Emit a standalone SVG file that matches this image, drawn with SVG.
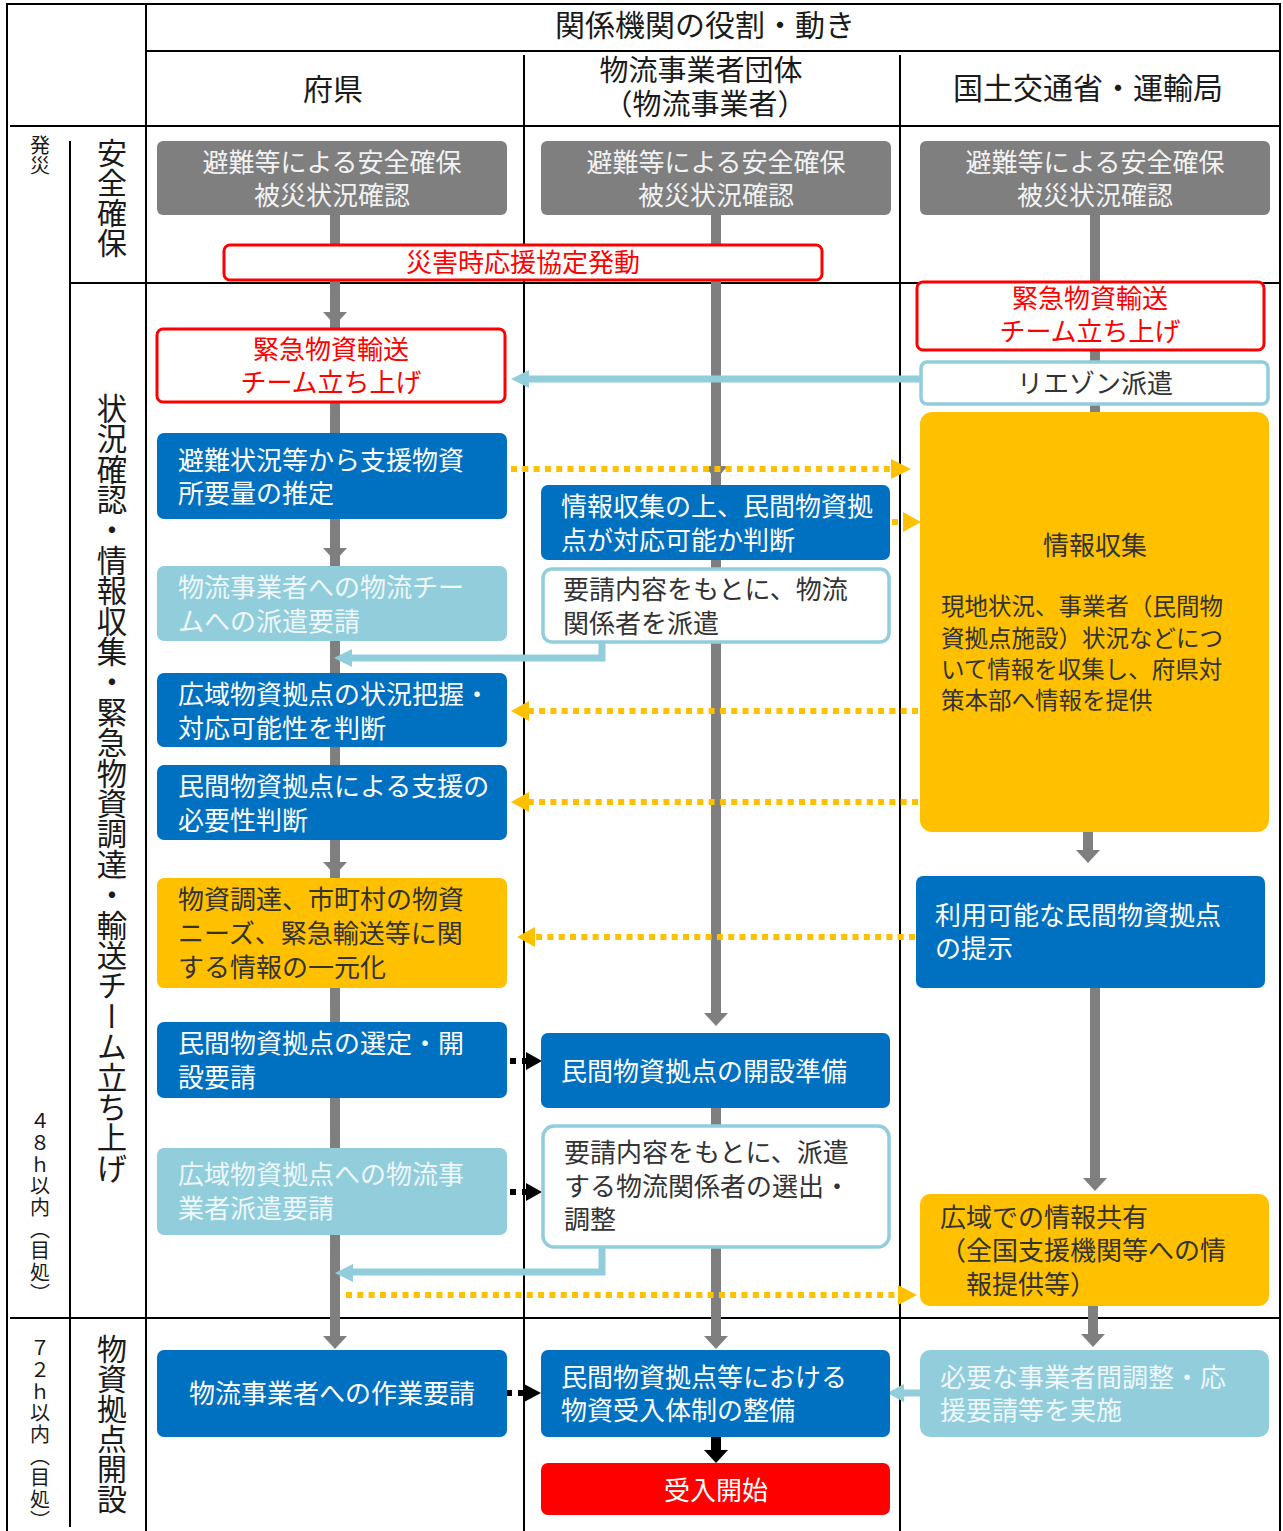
<svg xmlns="http://www.w3.org/2000/svg" width="1283" height="1531" viewBox="0 0 1283 1531">
<style>
text{font-family:'Noto Sans CJK JP','Noto Sans CJK SC',sans-serif;dominant-baseline:central}
.h{font-size:29px;fill:#1a1a1a;text-anchor:middle}
.v{writing-mode:vertical-rl;fill:#1a1a1a}
.vb{font-size:30.4px}
.vs{font-size:20px;letter-spacing:1.6px}
.t{font-size:26px}
.ts{font-size:23.5px}
.c{text-anchor:middle}
.w{fill:#ffffff}
.g{fill:#f2f2f2}
.lw{fill:#eef7fa}
.d{fill:#333333}
.r{fill:#ff0000}
.bgray{fill:#7f7f7f}
.bblue{fill:#0070c0}
.blight{fill:#92cddc}
.borange{fill:#ffc000}
.bred{fill:#ff0000}
.ored{fill:#ffffff;stroke:#ff0000;stroke-width:3}
.olb{fill:#ffffff;stroke:#92cddc;stroke-width:3.5}
.grid line{stroke:#000;stroke-width:2}
.gl{stroke:#7f7f7f;stroke-width:10;fill:none}
.ga{fill:#7f7f7f}
.lb{stroke:#92cddc;stroke-width:7;fill:none}
.lba{fill:#92cddc}
.od{stroke:#ffc000;stroke-width:6;stroke-dasharray:6 5.3;fill:none}
.oa{fill:#ffc000}
.bd{stroke:#000;stroke-width:6;stroke-dasharray:6 6;fill:none}
.ba{fill:#000}
</style>

<g id="grid" class="grid">
<line x1="7" y1="3" x2="7" y2="1531"/>
<line x1="6" y1="4" x2="1281" y2="4"/>
<line x1="146" y1="3" x2="146" y2="1531"/>
<line x1="146" y1="51" x2="1281" y2="51"/>
<line x1="524" y1="55" x2="524" y2="1531"/>
<line x1="900" y1="55" x2="900" y2="1531"/>
<line x1="1280" y1="4" x2="1280" y2="1531"/>
<line x1="10" y1="126" x2="1280" y2="126"/>
<line x1="70" y1="141" x2="70" y2="1527"/>
<line x1="70" y1="283" x2="1280" y2="283"/>
<line x1="10" y1="1318" x2="1280" y2="1318"/>
</g>

<g id="headers">
<text class="h" x="705" y="23" style="font-size:30px">関係機関の役割・動き</text>
<text class="h" x="333" y="87" style="font-size:30px">府県</text>
<text class="h" x="701" y="68">物流事業者団体</text>
<text class="h" x="705" y="102">（物流事業者）</text>
<text class="h" x="1088" y="86" style="font-size:30px">国土交通省・運輸局</text>
</g>

<g id="phases">
<text class="v vs" x="40" y="135" style="letter-spacing:0">発災</text>
<text class="v vb" x="112" y="138" style="font-size:30px">安全確保</text>
<text class="v vb" x="112" y="393">状況確認・情報収集・緊急物資調達・輸送チーム立ち上げ</text>
<text class="v vs" x="40" y="1111">４８ｈ以内（目処）</text>
<text class="v vs" x="40" y="1338">７２ｈ以内（目処）</text>
<text class="v vb" x="112" y="1334" style="font-size:30px">物資拠点開設</text>
</g>

<g id="connectors">
<line class="gl" x1="335" y1="215" x2="335" y2="1338"/>
<polygon class="ga" points="323,312 347,312 335,325"/>
<polygon class="ga" points="323,548 347,548 335,561"/>
<polygon class="ga" points="323,862 347,862 335,875"/>
<polygon class="ga" points="323,1336 347,1336 335,1349"/>
<line class="gl" x1="716" y1="215" x2="716" y2="1015"/>
<polygon class="ga" points="704,466 728,466 716,479"/>
<polygon class="ga" points="704,1013 728,1013 716,1026"/>
<line class="gl" x1="716" y1="1108" x2="716" y2="1338"/>
<polygon class="ga" points="704,1336 728,1336 716,1349"/>
<line class="gl" x1="1095" y1="215" x2="1095" y2="412"/>
<line class="gl" x1="1088" y1="832" x2="1088" y2="852"/>
<polygon class="ga" points="1076,850 1100,850 1088,863"/>
<line class="gl" x1="1095" y1="988" x2="1095" y2="1180"/>
<polygon class="ga" points="1083,1178 1107,1178 1095,1191"/>
<line class="gl" x1="1093" y1="1306" x2="1093" y2="1336"/>
<polygon class="ga" points="1081,1334 1105,1334 1093,1347"/>
<line x1="716" y1="1437" x2="716" y2="1451" stroke="#000" stroke-width="10"/>
<polygon class="ba" points="704,1450 728,1450 716,1463"/>
<line class="lb" x1="921" y1="379" x2="526" y2="379"/>
<polygon class="lba" points="511,379 529,370 529,388"/>
<polyline class="lb" points="602,642 602,658 350,658"/>
<polygon class="lba" points="334,658 352,649 352,667"/>
<polyline class="lb" points="602,1247 602,1272 352,1272"/>
<polygon class="lba" points="335,1273 353,1264 353,1282"/>
<line class="lb" x1="920" y1="1393" x2="902" y2="1393"/>
<polygon class="lba" points="887,1393 904,1384 904,1402"/>
<line class="od" x1="511" y1="469" x2="891" y2="469"/>
<polygon class="oa" points="891,459 891,479 911,469"/>
<line class="od" x1="892" y1="522" x2="904" y2="522"/>
<polygon class="oa" points="903,512 903,532 921,522"/>
<line class="od" x1="918" y1="711" x2="529" y2="711"/>
<polygon class="oa" points="529,701 529,721 511,711"/>
<line class="od" x1="918" y1="802" x2="529" y2="802"/>
<polygon class="oa" points="529,792 529,812 511,802"/>
<line class="od" x1="915" y1="937" x2="535" y2="937"/>
<polygon class="oa" points="535,927 535,947 517,937"/>
<line class="od" x1="346" y1="1295" x2="898" y2="1295"/>
<polygon class="oa" points="898,1285 898,1305 917,1295"/>
<line class="bd" x1="510" y1="1061" x2="527" y2="1061"/>
<polygon class="ba" points="526,1052 526,1070 542,1061"/>
<line class="bd" x1="510" y1="1192" x2="527" y2="1192"/>
<polygon class="ba" points="526,1183 526,1201 542,1192"/>
<line class="bd" x1="506" y1="1393" x2="525" y2="1393"/>
<polygon class="ba" points="524,1384 524,1402 541,1393"/>
</g>

<g id="n-gray1"><rect class="bgray" x="157" y="141" width="350" height="74" rx="6"/><text class="t g c" x="332" y="160">避難等による安全確保</text><text class="t g c" x="332" y="193">被災状況確認</text></g>
<g id="n-gray2"><rect class="bgray" x="541" y="141" width="350" height="74" rx="6"/><text class="t g c" x="716" y="160">避難等による安全確保</text><text class="t g c" x="716" y="193">被災状況確認</text></g>
<g id="n-gray3"><rect class="bgray" x="920" y="141" width="350" height="74" rx="6"/><text class="t g c" x="1095" y="160">避難等による安全確保</text><text class="t g c" x="1095" y="193">被災状況確認</text></g>

<g id="n-kyotei"><rect class="ored" x="224" y="245" width="598" height="35" rx="6" stroke-width="2.5"/><text class="t r c" x="523" y="260">災害時応援協定発動</text></g>

<g id="n-team1"><rect class="ored" x="157" y="329" width="348" height="73" rx="6"/><text class="t r c" x="331" y="347">緊急物資輸送</text><text class="t r c" x="331" y="380">チーム立ち上げ</text></g>
<g id="n-team3"><rect class="ored" x="917" y="282" width="347" height="68" rx="6"/><text class="t r c" x="1090" y="296">緊急物資輸送</text><text class="t r c" x="1090" y="329">チーム立ち上げ</text></g>
<g id="n-liaison"><rect class="olb" x="921" y="362" width="347" height="42" rx="6"/><text class="t d c" x="1095" y="381">リエゾン派遣</text></g>

<g id="n-f1"><rect class="bblue" x="157" y="433" width="350" height="86" rx="7"/><text class="t w" x="178" y="458">避難状況等から支援物資</text><text class="t w" x="178" y="491">所要量の推定</text></g>
<g id="n-f2"><rect class="blight" x="157" y="566" width="350" height="75" rx="7"/><text class="t lw" x="178" y="585">物流事業者への物流チー</text><text class="t lw" x="178" y="619">ムへの派遣要請</text></g>
<g id="n-f3"><rect class="bblue" x="157" y="673" width="350" height="74" rx="7"/><text class="t w" x="178" y="692">広域物資拠点の状況把握・</text><text class="t w" x="178" y="726">対応可能性を判断</text></g>
<g id="n-f4"><rect class="bblue" x="157" y="765" width="350" height="75" rx="7"/><text class="t w" x="178" y="784">民間物資拠点による支援の</text><text class="t w" x="178" y="818">必要性判断</text></g>
<g id="n-f5"><rect class="borange" x="157" y="878" width="350" height="110" rx="7"/><text class="t d" x="178" y="897">物資調達、市町村の物資</text><text class="t d" x="178" y="931">ニーズ、緊急輸送等に関</text><text class="t d" x="178" y="965">する情報の一元化</text></g>
<g id="n-f6"><rect class="bblue" x="157" y="1022" width="350" height="76" rx="7"/><text class="t w" x="178" y="1041">民間物資拠点の選定・開</text><text class="t w" x="178" y="1075">設要請</text></g>
<g id="n-f7"><rect class="blight" x="157" y="1148" width="350" height="87" rx="7"/><text class="t lw" x="178" y="1172">広域物資拠点への物流事</text><text class="t lw" x="178" y="1206">業者派遣要請</text></g>
<g id="n-f8"><rect class="bblue" x="157" y="1350" width="350" height="87" rx="7"/><text class="t w c" x="332" y="1391">物流事業者への作業要請</text></g>

<g id="n-b1"><rect class="bblue" x="541" y="485" width="349" height="75" rx="7"/><text class="t w" x="561" y="504">情報収集の上、民間物資拠</text><text class="t w" x="561" y="538">点が対応可能か判断</text></g>
<g id="n-b2"><rect class="olb" x="543" y="569" width="346" height="73" rx="9"/><text class="t d" x="563" y="587">要請内容をもとに、物流</text><text class="t d" x="563" y="621">関係者を派遣</text></g>
<g id="n-b3"><rect class="bblue" x="541" y="1033" width="349" height="75" rx="7"/><text class="t w" x="561" y="1069">民間物資拠点の開設準備</text></g>
<g id="n-b4"><rect class="olb" x="543" y="1126" width="346" height="121" rx="11"/><text class="t d" x="564" y="1150">要請内容をもとに、派遣</text><text class="t d" x="564" y="1184">する物流関係者の選出・</text><text class="t d" x="564" y="1217">調整</text></g>
<g id="n-b5"><rect class="bblue" x="541" y="1350" width="349" height="87" rx="7"/><text class="t w" x="561" y="1375">民間物資拠点等における</text><text class="t w" x="561" y="1408">物資受入体制の整備</text></g>
<g id="n-b6"><rect class="bred" x="541" y="1463" width="349" height="52" rx="7"/><text class="t w c" x="716" y="1488">受入開始</text></g>

<g id="n-k1"><rect class="borange" x="920" y="412" width="349" height="420" rx="12"/><text class="t d c" x="1095" y="543">情報収集</text><text class="ts d" x="941" y="605">現地状況、事業者（民間物</text><text class="ts d" x="941" y="637">資拠点施設）状況などにつ</text><text class="ts d" x="941" y="668">いて情報を収集し、府県対</text><text class="ts d" x="941" y="699">策本部へ情報を提供</text></g>
<g id="n-k2"><rect class="bblue" x="916" y="876" width="349" height="112" rx="7"/><text class="t w" x="935" y="913">利用可能な民間物資拠点</text><text class="t w" x="935" y="946">の提示</text></g>
<g id="n-k3"><rect class="borange" x="920" y="1194" width="349" height="112" rx="10"/><text class="t d" x="940" y="1215">広域での情報共有</text><text class="t d" x="940" y="1248">（全国支援機関等への情</text><text class="t d" x="966" y="1282">報提供等）</text></g>
<g id="n-k4"><rect class="blight" x="920" y="1350" width="349" height="87" rx="10"/><text class="t lw" x="940" y="1375">必要な事業者間調整・応</text><text class="t lw" x="940" y="1408">援要請等を実施</text></g>
</svg>
